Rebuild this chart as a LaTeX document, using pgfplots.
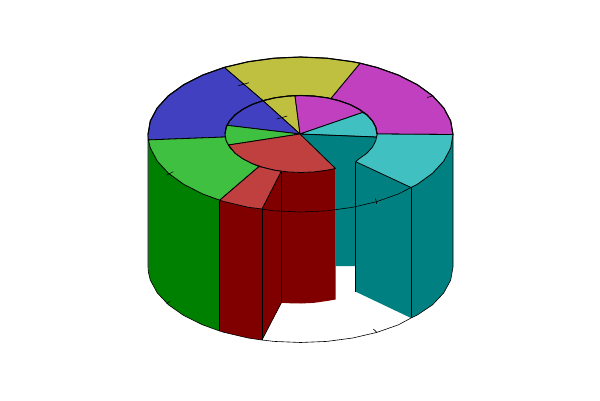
\documentclass[border=0pt]{standalone}
\usepackage{pgfplots}
\pgfplotsset{compat=1.18}
\definecolor{topred}{RGB}{192,64,64}
\definecolor{topgreen}{RGB}{64,192,64}
\definecolor{topblue}{RGB}{64,64,192}
\definecolor{topyellow}{RGB}{192,192,64}
\definecolor{topmagenta}{RGB}{192,64,192}
\definecolor{topcyan}{RGB}{64,192,192}
\definecolor{wallred}{RGB}{128,0,0}
\definecolor{wallgreen}{RGB}{0,128,0}
\definecolor{wallblue}{RGB}{0,0,128}
\definecolor{wallteal}{RGB}{0,128,128}
\tikzset{
  wall/.style={fill=#1, draw=none},
  face/.style={fill=#1, draw=black, line width=0.8pt, line join=round},
  edge/.style={black, line width=0.6pt},
  rim/.style={black, line width=1.1pt, line join=round},
  tickmark/.style={black, line width=0.6pt}
}
\begin{document}
\begin{tikzpicture}
\path[use as bounding box] (0,0) rectangle (600pt,400pt);
\begin{axis}[
  at={(0,0)}, anchor=south west,
  scale only axis, width=600pt, height=400pt,
  xmin=0, xmax=600, ymin=0, ymax=400, y dir=reverse,
  hide axis, clip=false
]
% walls seen through the gap
\addplot[wall=wallteal] coordinates {(300,134) (376.7,137) (375.8,140.7) (372.4,147.2) (366.8,153.25) (359.2,158.7) (355.7,161.7) (355.7,266) (335.5,266) (335.5,168.5)} --cycle;
\addplot[wall=wallred] coordinates {(281.3,171.2) (287.8,171.9) (301,172.5) (314.2,171.9) (327,170.2) (335.5,168.5) (335.5,299.5) (327,301) (314.2,302.8) (301,303.5) (287.8,303.2) (281.5,302.7)} --cycle;
\addplot[wall=wallred] coordinates {(281.3,171.2) (262,209) (262,340) (281.5,302.7)} --cycle;
\addplot[wall=wallteal] coordinates {(355.7,161.7) (411,187.5) (411,318) (355.7,291.7)} --cycle;
% outer walls
\addplot[wall=wallblue] coordinates {(148,134.5) (148.4,139.9) (148.4,272.3) (148,267)} --cycle;
\addplot[wall=wallgreen] coordinates {(148.4,139.9) (150.3,148) (157.2,161) (168.4,173.25) (183.7,184.3) (202.5,193.9) (219.7,200.2) (219.7,331) (202.5,324.8) (183.7,315.5) (168.4,304.75) (157.2,292.8) (150.3,280.1) (148.4,272.3)} --cycle;
\addplot[wall=wallred] coordinates {(219.7,200.2) (224.2,201.6) (248.3,207.3) (262,209) (262,340) (248.3,338) (224.2,332.4) (219.7,331)} --cycle;
\addplot[wall=wallteal] coordinates {(453,134.5) (450.7,148) (443.8,161) (432.6,173.25) (417.3,184.3) (411,187.5) (411,318) (417.3,315) (432.6,304.75) (443.8,292.8) (450.7,280.1) (453,267)} --cycle;
% wall edges
\addplot[edge] coordinates {(148,134.5) (148,267) (148.4,272.3) (150.3,280.1) (157.2,292.8) (168.4,304.75) (183.7,315.5) (202.5,324.8) (219.7,331) (224.2,332.4) (248.3,338) (262,340) (274,341.4) (300.5,342.5) (327,341.4) (352.7,338) (376.8,332.4) (398.5,324.8) (411,318) (417.3,315) (432.6,304.75) (443.8,292.8) (450.7,280.1) (453,267) (453,134.5)};
\addplot[edge] coordinates {(219.7,200.2) (219.7,331)};
\addplot[edge] coordinates {(262,209) (262,340)};
\addplot[edge] coordinates {(281.4,171.2) (281.4,302.7)};
\addplot[edge] coordinates {(355.7,161.7) (355.7,291.7)};
\addplot[edge] coordinates {(411,187.5) (411,318)};
\addplot[edge] coordinates {(281.4,302.7) (262,340)};
% front rim across the gap
\addplot[edge] coordinates {(262,209) (274,210.8) (300.5,212) (327,210.8) (352.7,207.3) (376.8,201.6) (398.5,193.9) (411,187.5)};
% ring faces
\addplot[face=topmagenta] coordinates {(453,134.5) (450.7,121) (443.8,108) (432.6,95.75) (417.3,84.7) (398.5,75.1) (376.8,67.4) (360.1,63.2) (330.7,98.6) (339,100.7) (349.9,104.5) (359.2,109.3) (366.8,114.75) (372.4,120.8) (375.8,127.3) (377,134)} --cycle;
\addplot[face=topyellow] coordinates {(360.1,63.2) (352.7,61.7) (327,58.2) (300.5,57) (274,58.2) (248.3,61.7) (224.2,67.4) (263,100.7) (275,97.8) (287.8,96.1) (301,95.5) (314.2,96.1) (327,97.8) (330.7,98.6)} --cycle;
\addplot[face=topblue] coordinates {(224.2,67.4) (202.5,75.1) (183.7,84.7) (168.4,95.75) (157.2,108) (150.3,121) (148,134.5) (148.4,139.9) (225.2,137) (226.2,127.3) (229.6,120.8) (235.2,114.75) (242.8,109.3) (252.1,104.5) (263,100.7)} --cycle;
\addplot[face=topgreen] coordinates {(148.4,139.9) (150.3,148) (157.2,161) (168.4,173.25) (183.7,184.3) (202.5,193.9) (219.7,200.2) (259,166.5) (252.1,163.5) (242.8,158.7) (235.2,153.25) (229.6,147.2) (226.2,140.7) (225.2,137)} --cycle;
\addplot[face=topred] coordinates {(219.7,200.2) (224.2,201.6) (248.3,207.3) (262,209) (281.3,171.2) (275,170.2) (263,167.3) (259,166.5)} --cycle;
\addplot[face=topcyan] coordinates {(453,134.5) (450.7,148) (443.8,161) (432.6,173.25) (417.3,184.3) (411,187.5) (355.7,161.7) (359.2,158.7) (366.8,153.25) (372.4,147.2) (375.8,140.7) (377,134)} --cycle;
% hub faces
\addplot[face=topyellow] coordinates {(300,134) (263,100.7) (275,97.8) (287.8,96.1) (295,95.7)} --cycle;
\addplot[face=topmagenta] coordinates {(300,134) (295,95.7) (301,95.5) (314.2,96.1) (327,97.8) (339,100.7) (349.9,104.5) (359.2,109.3) (362.5,112.5)} --cycle;
\addplot[face=topcyan] coordinates {(300,134) (362.5,112.5) (366.8,114.75) (372.4,120.8) (375.8,127.3) (377,134) (376.7,137)} --cycle;
\addplot[face=topblue] coordinates {(300,134) (226.8,125.3) (229.6,120.8) (235.2,114.75) (242.8,109.3) (252.1,104.5) (263,100.7)} --cycle;
\addplot[face=topgreen] coordinates {(300,134) (226.8,125.3) (226.2,127.3) (225,134) (226.2,140.7) (228.5,145)} --cycle;
\addplot[face=topred] coordinates {(300,134) (228.5,145) (235.2,153.25) (242.8,158.7) (252.1,163.5) (263,167.3) (275,170.2) (287.8,171.9) (301,172.5) (314.2,171.9) (327,170.2) (335.5,168.5)} --cycle;
\addplot[edge] coordinates {(300,134) (376.7,137)};
% heavier rims at the back of the outer and hub circles
\addplot[rim] coordinates {(453,134.5) (450.7,121) (443.8,108) (432.6,95.75) (417.3,84.7) (398.5,75.1) (376.8,67.4) (360.1,63.2) (352.7,61.7) (327,58.2) (300.5,57) (274,58.2) (248.3,61.7) (224.2,67.4) (202.5,75.1) (183.7,84.7) (168.4,95.75) (157.2,108) (150.3,121) (148,134.5)};
\addplot[rim] coordinates {(377,134) (375.8,127.3) (372.4,120.8) (366.8,114.75) (359.2,109.3) (349.9,104.5) (339,100.7) (327,97.8) (314.2,96.1) (301,95.5) (287.8,96.1) (275,97.8) (263,100.7) (252.1,104.5) (242.8,109.3) (235.2,114.75) (229.6,120.8) (226.2,127.3) (225,134)};
% ticks on the circles
\addplot[tickmark] coordinates {(238.3,85.7) (249,82.7)};
\addplot[tickmark] coordinates {(276.7,119) (287.3,116)};
\addplot[tickmark] coordinates {(427,97.5) (432.5,96)};
\addplot[tickmark] coordinates {(166.7,175) (173.3,171.7)};
\addplot[tickmark] coordinates {(375.5,198.5) (376.7,203.8)};
\addplot[tickmark] coordinates {(373.3,329) (376.7,332.3)};
\addplot[tickmark] coordinates {(166.5,303.5) (170,301.5)};
\end{axis}
\end{tikzpicture}
\end{document}
